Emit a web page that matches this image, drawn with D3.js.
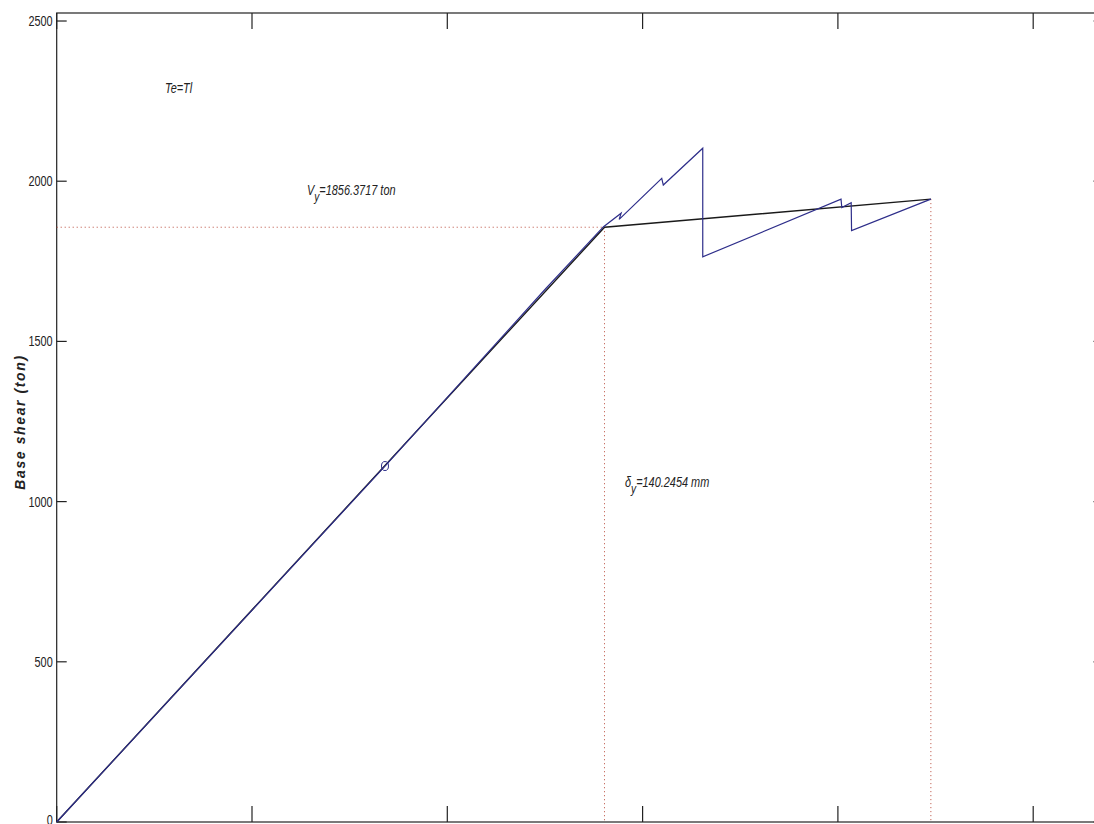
<!DOCTYPE html>
<html><head><meta charset="utf-8">
<script src="https://cdn.jsdelivr.net/npm/d3@7"></script>
<style>html,body{margin:0;padding:0;background:#fff;overflow:hidden}</style>
</head><body>
<svg id="c" width="1094" height="824"></svg>
<script>
// Pushover curve (displacement mm, base shear ton)
const pushDisp  = [0, 84.05, 125.0, 140.0, 144.5, 144.0, 154.9, 155.3, 165.4, 165.4, 200.8, 201.0, 203.4, 203.5, 223.8];
const pushShear = [0, 1111, 1662, 1858, 1900, 1881, 2009, 1988, 2103, 1764, 1944, 1918, 1933, 1846, 1944];
// Bilinear idealisation
const biDisp  = [0, 140.2454, 223.8];
const biShear = [0, 1856.3717, 1944];
// Performance point marker
const markDisp = [84.05];
const markShear = [1111];
const yTicks = [0, 500, 1000, 1500, 2000, 2500];
const xTicks = [0, 50, 100, 150, 200, 250];
const labels = {te: "Te=Tl", vy: "=1856.3717 ton", dy: "=140.2454 mm", ytitle: "Base shear (ton)"};

const svg = d3.select("#c");
const x = d3.scaleLinear().domain([0, 268]).range([56.7, 56.7 + 268 * 3.906]);
const y = d3.scaleLinear().domain([0, 2525]).range([822, 13]);
const FONT = "'Liberation Sans',Arial,sans-serif";
const SX = 0.78;

// frame
const [x0, x1] = x.range(), [yb, yt] = y.range();
svg.append("rect").attr("x", x0).attr("y", yt).attr("width", x1 - x0).attr("height", yb - yt)
  .attr("fill", "none").attr("stroke", "#222").attr("stroke-width", 1.2);

// ticks (inward)
const g = svg.append("g").attr("stroke", "#222").attr("stroke-width", 1.2);
xTicks.forEach(t => {
  g.append("line").attr("x1", x(t)).attr("x2", x(t)).attr("y1", yb).attr("y2", yb - 16);
  g.append("line").attr("x1", x(t)).attr("x2", x(t)).attr("y1", yt).attr("y2", yt + 16);
});
yTicks.forEach(t => {
  g.append("line").attr("x1", x0).attr("x2", x0 + 10).attr("y1", y(t)).attr("y2", y(t));
  g.append("line").attr("x1", x1).attr("x2", x1 - 10).attr("y1", y(t)).attr("y2", y(t));
});
svg.append("g").selectAll("g").data(yTicks).join("g")
  .attr("transform", d => `translate(${x0 - 4},${Math.min(y(d) + 5, 825)}) scale(${SX},1)`)
  .append("text").attr("text-anchor", "end")
  .attr("font-family", FONT).attr("font-size", 14).attr("fill", "#222").text(d => d);

// y title
svg.append("text").attr("transform", `translate(25,${422}) rotate(-90)`)
  .attr("text-anchor", "middle").attr("font-family", FONT)
  .attr("font-size", 14).attr("letter-spacing", 1.6).attr("font-weight", "bold").attr("font-style", "italic").attr("fill", "#222")
  .text(labels.ytitle);

// dotted reference lines
const dot = svg.append("g").attr("stroke", "#b84a3a").attr("stroke-width", 1).attr("stroke-dasharray", "1,3");
dot.append("line").attr("x1", x0).attr("x2", x(biDisp[1])).attr("y1", y(biShear[1])).attr("y2", y(biShear[1]));
dot.append("line").attr("x1", x(biDisp[1])).attr("x2", x(biDisp[1])).attr("y1", y(biShear[1])).attr("y2", yb);
dot.append("line").attr("x1", x(biDisp[2])).attr("x2", x(biDisp[2])).attr("y1", y(biShear[2])).attr("y2", yb);

const line = d3.line().x(d => x(d[0])).y(d => y(d[1]));
svg.append("path").datum(biDisp.map((d, i) => [d, biShear[i]])).attr("d", line)
  .attr("fill", "none").attr("stroke", "#1a1a1a").attr("stroke-width", 1.4);
svg.append("path").datum(pushDisp.map((d, i) => [d, pushShear[i]])).attr("d", line)
  .attr("fill", "none").attr("stroke", "#2e2e8a").attr("stroke-width", 1.2);
svg.selectAll("ellipse.m").data(markDisp).join("ellipse").attr("class", "m")
  .attr("cx", d => x(d)).attr("cy", (d, i) => y(markShear[i])).attr("rx", 3.5).attr("ry", 4.5)
  .attr("fill", "none").attr("stroke", "#2e2e8a").attr("stroke-width", 1);

// annotations
const ann = (tx, ty, main, sub, rest) => {
  const t = svg.append("g").attr("transform", `translate(${tx},${ty}) scale(${SX},1)`)
    .append("text").attr("font-family", FONT)
    .attr("font-size", 14).attr("font-style", "italic").attr("fill", "#222");
  t.append("tspan").text(main);
  if (sub) { t.append("tspan").attr("dy", 6).attr("font-size", 13).text(sub);
             t.append("tspan").attr("dy", -6).text(rest); }
};
ann(165, 93, labels.te);
ann(307, 195, "V", "y", labels.vy);
ann(625, 487, "δ", "y", labels.dy);
</script>
</body></html>
